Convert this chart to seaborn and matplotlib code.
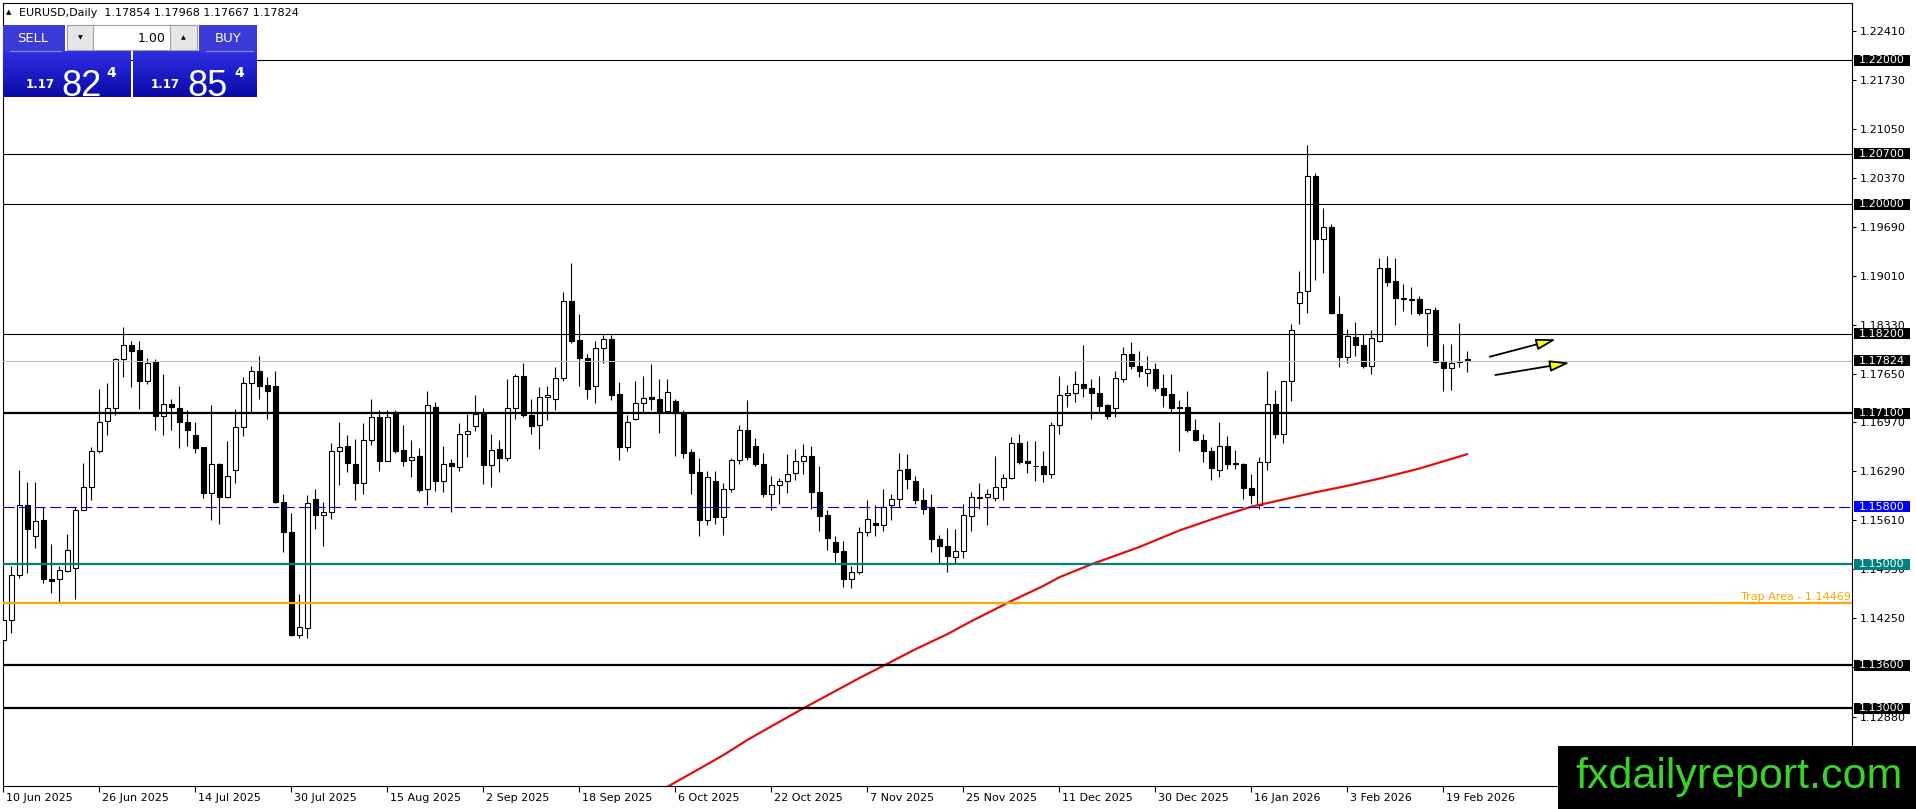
import numpy as np
import pandas as pd
import matplotlib
matplotlib.use("Agg")
import matplotlib.pyplot as plt
from matplotlib.patches import Rectangle, FancyArrowPatch
from matplotlib.colors import LinearSegmentedColormap
from matplotlib.transforms import ScaledTranslation, blended_transform_factory
import seaborn as sns

W, H = 1916, 809

# EURUSD daily candles (bar 0 = 10 Jun 2025)
opens = [1.1395, 1.1423, 1.1485, 1.1583, 1.1539, 1.1561, 1.1479, 1.1479, 1.1491, 1.1495,
         1.1576, 1.1607, 1.1657, 1.1699, 1.1717, 1.1785, 1.1804, 1.1797, 1.1754, 1.1783,
         1.1706, 1.1723, 1.1717, 1.1698, 1.1680, 1.1663, 1.1599, 1.1639, 1.1593, 1.1631,
         1.1691, 1.1752, 1.1769, 1.1749, 1.1747, 1.1587, 1.1545, 1.1402, 1.1412, 1.1591,
         1.1569, 1.1572, 1.1657, 1.1664, 1.1639, 1.1613, 1.1673, 1.1704, 1.1644, 1.1711,
         1.1659, 1.1645, 1.1650, 1.1604, 1.1718, 1.1616, 1.1641, 1.1635, 1.1681, 1.1692,
         1.1710, 1.1638, 1.1660, 1.1647, 1.1717, 1.1762, 1.1707, 1.1694, 1.1732, 1.1729,
         1.1759, 1.1865, 1.1812, 1.1787, 1.1748, 1.1801, 1.1813, 1.1737, 1.1663, 1.1702,
         1.1724, 1.1733, 1.1729, 1.1713, 1.1727, 1.1710, 1.1656, 1.1628, 1.1561, 1.1616,
         1.1566, 1.1605, 1.1645, 1.1686, 1.1664, 1.1640, 1.1598, 1.1610, 1.1616, 1.1627,
         1.1644, 1.1651, 1.1601, 1.1568, 1.1531, 1.1518, 1.1480, 1.1489, 1.1545, 1.1558,
         1.1555, 1.1582, 1.1591, 1.1633, 1.1616, 1.1590, 1.1579, 1.1535, 1.1525, 1.1510,
         1.1519, 1.1567, 1.1593, 1.1593, 1.1592, 1.1608, 1.1620, 1.1669, 1.1643, 1.1637,
         1.1636, 1.1625, 1.1694, 1.1735, 1.1738, 1.1751, 1.1745, 1.1738, 1.1721, 1.1717,
         1.1758, 1.1792, 1.1776, 1.1766, 1.1771, 1.1745, 1.1737, 1.1718, 1.1719, 1.1687,
         1.1673, 1.1657, 1.1631, 1.1664, 1.1641, 1.1640, 1.1606, 1.1582, 1.1642, 1.1723,
         1.1681, 1.1754, 1.1863, 1.1879, 1.2039, 1.1952, 1.1968, 1.1847, 1.1788, 1.1816,
         1.1805, 1.1775, 1.1810, 1.1911, 1.1894, 1.1870, 1.1869, 1.1868, 1.1849, 1.1853,
         1.1782, 1.1772, 1.1782, 1.17854]
highs = [1.1428, 1.1497, 1.1631, 1.1614, 1.1614, 1.1579, 1.1528, 1.1498, 1.1542, 1.1580,
         1.1641, 1.1663, 1.1744, 1.1752, 1.1787, 1.1829, 1.1810, 1.1810, 1.1787, 1.1785,
         1.1765, 1.1729, 1.1748, 1.1714, 1.1698, 1.1663, 1.1721, 1.1641, 1.1671, 1.1716,
         1.1760, 1.1775, 1.1789, 1.1760, 1.1769, 1.1598, 1.1571, 1.1459, 1.1596, 1.1605,
         1.1587, 1.1668, 1.1698, 1.1679, 1.1674, 1.1696, 1.1729, 1.1715, 1.1715, 1.1714,
         1.1693, 1.1673, 1.1662, 1.1741, 1.1725, 1.1665, 1.1646, 1.1696, 1.1709, 1.1735,
         1.1717, 1.1681, 1.1672, 1.1758, 1.1765, 1.1779, 1.1729, 1.1746, 1.1747, 1.1774,
         1.1878, 1.1918, 1.1847, 1.1792, 1.1810, 1.1818, 1.1818, 1.1753, 1.1707, 1.1754,
         1.1761, 1.1778, 1.1758, 1.1758, 1.1730, 1.1715, 1.1660, 1.1647, 1.1630, 1.1629,
         1.1613, 1.1648, 1.1693, 1.1728, 1.1675, 1.1654, 1.1622, 1.1620, 1.1653, 1.1660,
         1.1667, 1.1665, 1.1637, 1.1576, 1.1540, 1.1533, 1.1498, 1.1552, 1.1590, 1.1582,
         1.1605, 1.1598, 1.1655, 1.1653, 1.1623, 1.1606, 1.1597, 1.1541, 1.1551, 1.1549,
         1.1584, 1.1600, 1.1613, 1.1605, 1.1651, 1.1626, 1.1677, 1.1681, 1.1671, 1.1671,
         1.1657, 1.1698, 1.1762, 1.1749, 1.1768, 1.1804, 1.1758, 1.1761, 1.1723, 1.1769,
         1.1802, 1.1809, 1.1796, 1.1789, 1.1779, 1.1764, 1.1764, 1.1728, 1.1741, 1.1702,
         1.1681, 1.1663, 1.1698, 1.1678, 1.1659, 1.1641, 1.1626, 1.1649, 1.1768, 1.1742,
         1.1755, 1.1834, 1.1907, 1.2082, 1.2043, 1.1995, 1.1973, 1.1873, 1.1827, 1.1836,
         1.1820, 1.1825, 1.1926, 1.1928, 1.1926, 1.1889, 1.1885, 1.1873, 1.1854, 1.1857,
         1.1806, 1.1806, 1.1835, 1.17968]
lows = [1.1375, 1.1404, 1.1481, 1.1488, 1.1523, 1.1474, 1.1460, 1.1447, 1.1489, 1.1452,
        1.1575, 1.1590, 1.1654, 1.1680, 1.1708, 1.1760, 1.1746, 1.1716, 1.1751, 1.1686,
        1.1680, 1.1687, 1.1661, 1.1664, 1.1654, 1.1592, 1.1562, 1.1556, 1.1592, 1.1613,
        1.1678, 1.1711, 1.1730, 1.1702, 1.1585, 1.1517, 1.1400, 1.1398, 1.1398, 1.1549,
        1.1526, 1.1563, 1.1610, 1.1628, 1.1590, 1.1597, 1.1666, 1.1629, 1.1643, 1.1654,
        1.1637, 1.1621, 1.1600, 1.1582, 1.1602, 1.1600, 1.1572, 1.1630, 1.1649, 1.1685,
        1.1611, 1.1607, 1.1628, 1.1643, 1.1702, 1.1704, 1.1681, 1.1660, 1.1700, 1.1715,
        1.1755, 1.1807, 1.1748, 1.1729, 1.1724, 1.1779, 1.1728, 1.1645, 1.1657, 1.1700,
        1.1711, 1.1714, 1.1682, 1.1710, 1.1650, 1.1647, 1.1597, 1.1540, 1.1555, 1.1556,
        1.1541, 1.1600, 1.1640, 1.1645, 1.1636, 1.1594, 1.1576, 1.1584, 1.1599, 1.1617,
        1.1625, 1.1577, 1.1546, 1.1520, 1.1503, 1.1468, 1.1467, 1.1487, 1.1540, 1.1540,
        1.1546, 1.1561, 1.1579, 1.1604, 1.1584, 1.1570, 1.1517, 1.1500, 1.1489, 1.1500,
        1.1509, 1.1546, 1.1577, 1.1554, 1.1588, 1.1589, 1.1618, 1.1640, 1.1627, 1.1616,
        1.1614, 1.1620, 1.1681, 1.1718, 1.1725, 1.1733, 1.1702, 1.1711, 1.1702, 1.1704,
        1.1753, 1.1771, 1.1760, 1.1748, 1.1741, 1.1718, 1.1710, 1.1657, 1.1684, 1.1671,
        1.1642, 1.1617, 1.1621, 1.1633, 1.1633, 1.1591, 1.1584, 1.1577, 1.1631, 1.1676,
        1.1668, 1.1727, 1.1834, 1.1849, 1.1895, 1.1904, 1.1848, 1.1774, 1.1780, 1.1789,
        1.1773, 1.1765, 1.1809, 1.1886, 1.1833, 1.1852, 1.1847, 1.1846, 1.1803, 1.1780,
        1.1741, 1.1742, 1.1774, 1.17667]
closes = [1.1423, 1.1485, 1.1583, 1.1549, 1.1560, 1.1479, 1.1477, 1.1492, 1.1520, 1.1576,
          1.1607, 1.1657, 1.1698, 1.1717, 1.1785, 1.1804, 1.1796, 1.1754, 1.1779, 1.1706,
          1.1723, 1.1718, 1.1698, 1.1687, 1.1661, 1.1599, 1.1639, 1.1593, 1.1623, 1.1691,
          1.1752, 1.1769, 1.1748, 1.1741, 1.1586, 1.1545, 1.1402, 1.1413, 1.1585, 1.1568,
          1.1573, 1.1658, 1.1663, 1.1641, 1.1613, 1.1673, 1.1704, 1.1644, 1.1704, 1.1658,
          1.1644, 1.1649, 1.1603, 1.1721, 1.1616, 1.1640, 1.1636, 1.1681, 1.1685, 1.1709,
          1.1638, 1.1659, 1.1647, 1.1717, 1.1762, 1.1707, 1.1692, 1.1733, 1.1735, 1.1759,
          1.1866, 1.1810, 1.1787, 1.1744, 1.1801, 1.1813, 1.1735, 1.1663, 1.1698, 1.1724,
          1.1731, 1.1729, 1.1713, 1.1740, 1.1710, 1.1654, 1.1627, 1.1561, 1.1621, 1.1566,
          1.1605, 1.1645, 1.1686, 1.1649, 1.1639, 1.1597, 1.1610, 1.1616, 1.1625, 1.1644,
          1.1650, 1.1600, 1.1567, 1.1537, 1.1517, 1.1480, 1.1489, 1.1545, 1.1563, 1.1555,
          1.1579, 1.1591, 1.1631, 1.1619, 1.1590, 1.1577, 1.1535, 1.1525, 1.1511, 1.1519,
          1.1568, 1.1593, 1.1592, 1.1597, 1.1608, 1.1620, 1.1669, 1.1642, 1.1641, 1.1636,
          1.1625, 1.1694, 1.1735, 1.1738, 1.1751, 1.1745, 1.1738, 1.1720, 1.1706, 1.1759,
          1.1792, 1.1776, 1.1768, 1.1771, 1.1745, 1.1735, 1.1717, 1.1717, 1.1687, 1.1673,
          1.1657, 1.1634, 1.1664, 1.1640, 1.1640, 1.1606, 1.1596, 1.1642, 1.1723, 1.1681,
          1.1754, 1.1826, 1.1878, 1.2039, 1.1952, 1.1968, 1.1849, 1.1788, 1.1817, 1.1805,
          1.1775, 1.1815, 1.1912, 1.1892, 1.1870, 1.1869, 1.1867, 1.1849, 1.1854, 1.1781,
          1.1772, 1.1779, 1.1781, 1.17824]

# red moving average, sampled along the line
ma_bars = [83, 87, 90, 93, 96, 100, 104, 107, 110, 114, 118, 121, 126, 130, 132,
           136, 142, 147, 152, 156, 160, 164, 168, 172, 177, 183]
ma_values = [1.1191, 1.1216, 1.1235, 1.1256, 1.1275, 1.1300, 1.1324, 1.1342, 1.1359,
             1.1382, 1.1403, 1.1421, 1.1449, 1.1470, 1.1482, 1.1500, 1.1524, 1.1547,
             1.1566, 1.1580, 1.1590, 1.1600, 1.1609, 1.1619, 1.1633, 1.1653]

# horizontal levels
thin_levels = [1.22000, 1.20700, 1.20000, 1.18200]
thick_levels = [1.17100, 1.13600, 1.13000]
bid_price = 1.17824
pivot_level = 1.15800
round_level = 1.15000
trap_level = 1.14469

price_ticks = [1.22410, 1.21730, 1.21050, 1.20370, 1.19690, 1.19010, 1.18330, 1.17650,
               1.16970, 1.16290, 1.15610, 1.14930, 1.14250, 1.13570, 1.12880, 1.12200]

date_labels = ["10 Jun 2025", "26 Jun 2025", "14 Jul 2025", "30 Jul 2025", "15 Aug 2025",
               "2 Sep 2025", "18 Sep 2025", "6 Oct 2025", "22 Oct 2025", "7 Nov 2025",
               "25 Nov 2025", "11 Dec 2025", "30 Dec 2025", "16 Jan 2026", "3 Feb 2026",
               "19 Feb 2026"]
date_bars = list(range(0, 12 * len(date_labels), 12))

# two hand-drawn arrows (bar, price)
arrows = [((185.8, 1.17883), (194.1, 1.18125)),
          ((186.5, 1.17629), (195.8, 1.17800))]

BLUE_LINE = "#0000CD"
BLUE_BOX = "#0000FF"
TEAL = "#008080"
ORANGE = "#FFA500"

sns.set_theme(style="white")
plt.rcParams['font.family'] = ['DejaVu Sans']

fig = plt.figure(figsize=(W / 100, H / 100), dpi=100)
fig.patch.set_facecolor("white")
ax_left, ax_right, ax_top, ax_bottom = 2.7, 1852.0, 2.7, 785.7
ax = fig.add_axes([ax_left / W, (H - ax_bottom) / H,
                   (ax_right - ax_left) / W, (ax_bottom - ax_top) / H])
ax.set_facecolor("white")

df = pd.DataFrame({"open": opens, "high": highs, "low": lows, "close": closes})
df["bar"] = np.arange(len(df))
up = df["close"] >= df["open"]

# candles
ax.vlines(df["bar"], df["low"], df["high"], color="black", lw=0.8, zorder=3)
ax.bar(df["bar"][up], (df["close"] - df["open"])[up], bottom=df["open"][up],
       width=0.62, color="white", edgecolor="black", linewidth=0.8, zorder=4)
ax.bar(df["bar"][~up], (df["open"] - df["close"])[~up], bottom=df["close"][~up],
       width=0.62, color="black", edgecolor="black", linewidth=0.8, zorder=4)

# moving average
sns.lineplot(x=ma_bars, y=ma_values, ax=ax, color="#E01010", linewidth=1.6, zorder=4.5)

# level lines
for lv in thin_levels:
    ax.axhline(lv, color="black", lw=0.8, zorder=5)
for lv in thick_levels:
    ax.axhline(lv, color="black", lw=1.6, zorder=5)
ax.axhline(bid_price, color="#C0C0C0", lw=0.8, zorder=5)
ax.axhline(pivot_level, color=BLUE_LINE, lw=0.8, dashes=(10, 4), zorder=5)
ax.axhline(round_level, color=TEAL, lw=1.6, zorder=5)
ax.axhline(trap_level, color=ORANGE, lw=1.6, zorder=5)
ax.text(0.9993, trap_level + 0.00012, f"Trap Area - {trap_level:.5f}", color=ORANGE,
        fontsize=8, ha="right", va="bottom",
        transform=blended_transform_factory(ax.transAxes, ax.transData), zorder=6)

for (x0, y0), (x1, y1) in arrows:
    ax.add_patch(FancyArrowPatch((x0, y0), (x1, y1),
                                 arrowstyle="-|>,head_length=0.85,head_width=0.24",
                                 mutation_scale=14, facecolor="yellow", edgecolor="black",
                                 lw=1.3, shrinkA=0, shrinkB=0, zorder=8))

# scales
ax.set_xlim(-0.08, 231.08)
ax.set_ylim(1.11925, 1.22800)
ax.set_xlabel("")
ax.set_ylabel("")
for sp in ax.spines.values():
    sp.set_color("black")
    sp.set_linewidth(0.8)

ax.yaxis.tick_right()
ax.set_yticks(price_ticks)
ax.set_yticklabels([f"{t:.5f}" for t in price_ticks])
ax.tick_params(axis="y", right=True, left=False, labelright=True, labelleft=False,
               length=3, width=0.8, pad=2.5, labelsize=8, colors="black", direction="out")
ax.set_xticks(date_bars)
ax.set_xticklabels(date_labels)
ax.tick_params(axis="x", bottom=True, top=False, length=4, width=0.8, pad=1,
               labelsize=8, colors="black", direction="out")
shift = ScaledTranslation(2 / 72, 0, fig.dpi_scale_trans)
for lbl in ax.get_xticklabels():
    lbl.set_ha("left")
    lbl.set_transform(lbl.get_transform() + shift)

# price boxes on the scale
axw = ax_right - ax_left
px_per_unit = (ax_bottom - ax_top) / (1.22800 - 1.11925)
btrans = blended_transform_factory(ax.transAxes, ax.transData)
boxes = [(p, "black") for p in thin_levels + thick_levels + [bid_price]]
boxes += [(pivot_level, BLUE_BOX), (round_level, TEAL)]
for price, face in boxes:
    ax.add_patch(Rectangle((1 + 2 / axw, price - 5.5 / px_per_unit), 56 / axw,
                           11 / px_per_unit, transform=btrans, facecolor=face,
                           edgecolor="none", clip_on=False, zorder=6))
    ax.text(1 + 6.5 / axw, price, f"{price:.5f}", transform=btrans, color="white",
            fontsize=8, ha="left", va="center", zorder=7, clip_on=False)

# overlay in pixel space: header, trade panel, watermark
ov = fig.add_axes([0, 0, 1, 1], zorder=10)
ov.patch.set_alpha(0)
ov.axis("off")

ov.text(9, 12.5, "▲", fontsize=5, ha="center", va="center", color="black")
ov.text(19, 12.5, "EURUSD,Daily  1.17854 1.17968 1.17667 1.17824", fontsize=8,
        ha="left", va="center", color="black")

panel_cmap = LinearSegmentedColormap.from_list("panel", ["#2f2fe4", "#0a0aa6"])
grad = np.linspace(0, 1, 64).reshape(-1, 1)
for x0, x1 in [(2.7, 130.0), (133.3, 256.7)]:
    ov.imshow(grad, cmap=panel_cmap, extent=[x0, x1, 97, 51.7], aspect="auto", zorder=1)
for x0, x1 in [(2.7, 65.0), (199.5, 256.7)]:
    ov.add_patch(Rectangle((x0, 25), x1 - x0, 26.7, facecolor="#3a3ad8", edgecolor="none", zorder=1))
    ov.plot([x0 + 7, x1 - 4], [51.2, 51.2], color="#8c8cf0", lw=0.8, zorder=2)
# lot spin box
ov.add_patch(Rectangle((66.7, 25), 130, 25.3, facecolor="white", edgecolor="#a0a0a0", lw=0.8, zorder=2))
ov.add_patch(Rectangle((66.7, 25), 26.3, 25.3, facecolor="#e6e6e6", edgecolor="#a0a0a0", lw=0.8, zorder=3))
ov.add_patch(Rectangle((170.3, 25), 26.4, 25.3, facecolor="#e6e6e6", edgecolor="#a0a0a0", lw=0.8, zorder=3))
ov.text(80, 38, "▼", fontsize=4.5, ha="center", va="center", color="black", zorder=4)
ov.text(183.5, 38, "▲", fontsize=4.5, ha="center", va="center", color="black", zorder=4)
ov.text(166, 38, "1.00", fontsize=9, ha="right", va="center", color="black", zorder=4)
ov.text(33, 38.5, "SELL", fontsize=9.5, ha="center", va="center", color="white", zorder=4)
ov.text(228, 38.5, "BUY", fontsize=9.5, ha="center", va="center", color="white", zorder=4)

big_font = ["Liberation Sans", "DejaVu Sans"]
for x_small, x_big, x_sup, big in [(26, 61, 106, "82"), (151, 187, 234, "85")]:
    ov.text(x_small, 88, "1.17", fontsize=8.5, fontweight="bold", color="white",
            ha="left", va="baseline", zorder=4)
    ov.text(x_big, 95.5, big, fontsize=26, color="white", family=big_font,
            ha="left", va="baseline", zorder=4)
    ov.text(x_sup, 66, "4", fontsize=10, fontweight="bold", color="white",
            ha="left", va="top", zorder=4)

ov.add_patch(Rectangle((1558, 746), W - 1558, H - 746, facecolor="black", edgecolor="none", zorder=5))
ov.text(1575, 788, "fxdailyreport.com", fontsize=31, color="#3AD12B",
        family=["Liberation Sans", "DejaVu Sans"], ha="left", va="baseline", zorder=6)

ov.set_xlim(0, W)
ov.set_ylim(H, 0)

fig.savefig("out.png", dpi=100)
